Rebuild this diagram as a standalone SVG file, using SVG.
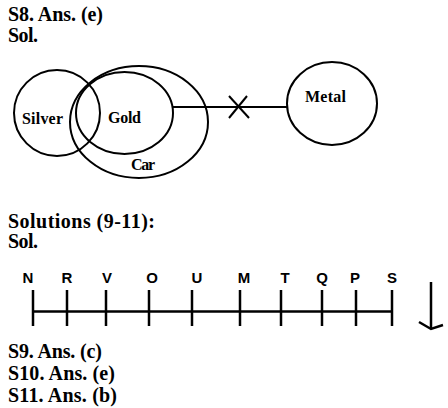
<svg xmlns="http://www.w3.org/2000/svg" width="448" height="408" viewBox="0 0 448 408">
<style>
.h{font-family:"Liberation Serif","Times New Roman",serif;font-weight:bold;font-size:20px;fill:#000}
.n{font-family:"Liberation Serif","Times New Roman",serif;font-weight:bold;font-size:16px;fill:#000}
.l{font-family:"Liberation Sans",Arial,sans-serif;font-weight:bold;font-size:15px;fill:#000;text-anchor:middle}
.e{fill:none;stroke:#000;stroke-width:2}
.k{stroke:#000;stroke-width:2.5;fill:none}
</style>
<rect width="448" height="408" fill="#fff"/>
<text class="h" x="8" y="21" textLength="95" lengthAdjust="spacing">S8. Ans. (e)</text>
<text class="h" x="8" y="42" textLength="30" lengthAdjust="spacing">Sol.</text>
<g id="silver"><ellipse class="e" cx="57" cy="113" rx="43" ry="43"/><text class="n" x="22" y="124" textLength="41" lengthAdjust="spacing">Silver</text></g>
<g id="gold"><ellipse class="e" cx="124.5" cy="113" rx="48.5" ry="41"/><text class="n" x="108" y="123" textLength="33" lengthAdjust="spacing">Gold</text></g>
<g id="car"><ellipse class="e" cx="139" cy="122" rx="69" ry="56"/><text class="n" x="131" y="170" textLength="24" lengthAdjust="spacing">Car</text></g>
<g id="metal"><ellipse class="e" cx="332" cy="103.5" rx="45" ry="41.5"/><text class="n" x="305" y="102" textLength="41" lengthAdjust="spacing">Metal</text></g>
<g id="connectors">
<line class="e" x1="173" y1="107" x2="287" y2="107"/>
<line class="e" x1="229" y1="96" x2="249" y2="118"/>
<line class="e" x1="247" y1="96" x2="229" y2="118"/>
</g>
<text class="h" x="8" y="228" textLength="147" lengthAdjust="spacing">Solutions (9-11):</text>
<text class="h" x="8" y="248" textLength="30" lengthAdjust="spacing">Sol.</text>
<g id="numberline">
<line class="k" x1="33" y1="311.5" x2="392" y2="311.5"/>
<g class="k">
<line x1="33" y1="290" x2="33" y2="326"/>
<line x1="67" y1="290" x2="67" y2="326"/>
<line x1="106" y1="290" x2="106" y2="326"/>
<line x1="149" y1="290" x2="149" y2="326"/>
<line x1="192" y1="290" x2="192" y2="326"/>
<line x1="240" y1="290" x2="240" y2="326"/>
<line x1="281" y1="290" x2="281" y2="326"/>
<line x1="322" y1="290" x2="322" y2="326"/>
<line x1="356" y1="290" x2="356" y2="326"/>
<line x1="392" y1="290" x2="392" y2="326"/>
</g>
<text class="l" x="28" y="283">N</text>
<text class="l" x="67" y="283">R</text>
<text class="l" x="107" y="283">V</text>
<text class="l" x="152" y="283">O</text>
<text class="l" x="197" y="283">U</text>
<text class="l" x="244" y="283">M</text>
<text class="l" x="285" y="283">T</text>
<text class="l" x="322" y="283">Q</text>
<text class="l" x="355" y="283">P</text>
<text class="l" x="392" y="283">S</text>
</g>
<g id="arrow" class="k">
<line x1="431" y1="282" x2="431" y2="329"/>
<polyline points="419,322 431,329 443,325"/>
</g>
<text class="h" x="8" y="358" textLength="94" lengthAdjust="spacing">S9. Ans. (c)</text>
<text class="h" x="8" y="380" textLength="107" lengthAdjust="spacing">S10. Ans. (e)</text>
<text class="h" x="8" y="402" textLength="109" lengthAdjust="spacing">S11. Ans. (b)</text>
</svg>
